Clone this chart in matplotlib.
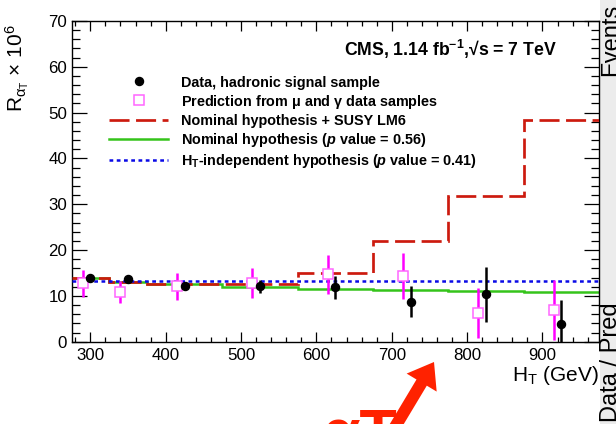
import matplotlib
matplotlib.use('Agg')
import matplotlib.pyplot as plt
from matplotlib.lines import Line2D
from matplotlib.patches import Rectangle, FancyArrow
from matplotlib.transforms import IdentityTransform
from matplotlib.ticker import MultipleLocator

# ---------------- data ----------------
ht_edges = [275, 325, 375, 475, 575, 675, 775, 875, 975]
susy_lm6 = [13.8, 13.1, 12.7, 12.7, 15.1, 22.05, 31.9, 48.4]
nominal = [13.8, 13.1, 12.7, 11.95, 11.6, 11.35, 11.1, 10.9]
ht_independent = 13.35

data_x = [300, 350, 425, 525, 625, 725, 825, 925]
data_y = [13.8, 13.6, 12.15, 12.05, 11.9, 8.7, 10.4, 3.9]
data_err = [0.8, 0.7, 0.7, 1.4, 2.5, 3.4, 6.0, 5.2]

pred_x = [290, 340, 415, 515, 615, 715, 815, 915]
pred_y = [12.75, 10.9, 12.05, 12.8, 14.7, 14.3, 6.2, 6.9]
pred_err = [2.9, 2.4, 3.0, 3.25, 4.3, 5.0, 5.5, 6.5]

labels = [
    'Data, hadronic signal sample',
    r'Prediction from $\mu$ and $\gamma$ data samples',
    'Nominal hypothesis + SUSY LM6',
    r'Nominal hypothesis ($\mathbfit{p}$ value = 0.56)',
    r'H$_\mathbf{T}$-independent hypothesis ($\mathbfit{p}$ value = 0.41)',
]

# ---------------- style ----------------
plt.rcParams['font.family'] = ['Liberation Sans', 'DejaVu Sans']
plt.rcParams['mathtext.fontset'] = 'custom'
plt.rcParams['mathtext.rm'] = 'Liberation Sans'
plt.rcParams['mathtext.it'] = 'Liberation Sans:italic'
plt.rcParams['mathtext.bf'] = 'Liberation Sans:bold'
try:
    plt.rcParams['mathtext.bfit'] = 'Liberation Sans:bold:italic'
except KeyError:
    labels = [l.replace(r'\mathbfit', r'\mathit') for l in labels]
plt.rcParams['mathtext.default'] = 'regular'

RED = '#cc1a0e'
GREEN = '#35c41a'
BLUE = '#0a0ae6'
MAGENTA = '#ff00ff'
PINK = '#ff66ff'

W, H = 616, 424
fig = plt.figure(figsize=(W / 100, H / 100), dpi=100)
fig.patch.set_facecolor('white')

# side strip (neighbouring panel, cut off as in the reference)
fig.add_artist(Rectangle((600 / W, 0), 16 / W, 1, transform=fig.transFigure,
                         facecolor='#ececec', edgecolor='none', zorder=0))
fig.text(600, H - 4, 'Events', rotation=90, ha='left', va='top', fontsize=17,
         transform=IdentityTransform())
fig.text(600, H - 422, 'Data / Pred', rotation=90, ha='left', va='bottom', fontsize=17,
         transform=IdentityTransform())

ax = fig.add_axes([71.5 / W, 1 - 341.7 / H, 527.5 / W, 320.7 / H])
ax.set_facecolor('white')

# step histograms
ax.stairs(nominal, ht_edges, color=GREEN, lw=1.8, zorder=2, baseline=None)
ax.stairs(susy_lm6, ht_edges, color=RED, lw=1.95, linestyle=(0, (7.4, 2.4)),
          zorder=3, baseline=None)
ax.axhline(ht_independent, color=BLUE, lw=1.8, linestyle=(0, (1.5, 1.4)), zorder=4)

# prediction points
ax.errorbar(pred_x, pred_y, yerr=pred_err, fmt='none', ecolor=MAGENTA, elinewidth=1.8,
            capsize=0, zorder=5)
ax.plot(pred_x, pred_y, ls='none', marker='s', ms=7.6, mfc='white', mec=PINK, mew=1.1,
        zorder=6)
# data points
ax.errorbar(data_x, data_y, yerr=data_err, fmt='o', color='black', ms=5.8,
            elinewidth=1.8, capsize=0, zorder=7)

ax.set_xlim(275, 975)
ax.set_ylim(0, 70)
ax.xaxis.set_major_locator(MultipleLocator(100))
ax.xaxis.set_minor_locator(MultipleLocator(20))
ax.yaxis.set_major_locator(MultipleLocator(10))
ax.yaxis.set_minor_locator(MultipleLocator(2))
ax.tick_params(which='both', direction='in', top=True, right=True, width=0.9,
               labelsize=12.2, colors='black')
ax.tick_params(axis='x', which='major', length=7.2, pad=4.3)
ax.tick_params(axis='x', which='minor', length=3.6)
ax.tick_params(axis='y', which='major', length=11, pad=3.2)
ax.tick_params(axis='y', which='minor', length=5.5)
for s in ax.spines.values():
    s.set_linewidth(1.0)

ax.set_xlabel(r'H$_{T}$ (GeV)', fontsize=15, loc='right')
ax.xaxis.set_label_coords(1.0, -0.068)
ax.set_ylabel(r'R$_{\alpha_{T}}$ × 10$^{6}$', fontsize=15, loc='top')
ax.yaxis.set_label_coords(-0.076, 0.99)

ax.text(0.92, 0.891, r'CMS, 1.14 fb$^{\mathbf{-1}}$,√s = 7 TeV',
        transform=ax.transAxes, ha='right', va='baseline', fontsize=12.7, fontweight='bold')

handles = [
    Line2D([], [], ls='none', marker='o', color='black', ms=5.8),
    Line2D([], [], ls='none', marker='s', ms=7.6, mfc='white', mec=PINK, mew=1.1),
    Line2D([], [], color=RED, lw=1.95, linestyle=(0, (7.4, 2.4))),
    Line2D([], [], color=GREEN, lw=1.8),
    Line2D([], [], color=BLUE, lw=1.8, linestyle=(0, (1.5, 1.4))),
]
fig.legend(handles, labels, loc='upper left', bbox_to_anchor=(109 / W, 1 - 75.5 / H),
           frameon=False, prop=dict(weight='bold', size=10.4), handlelength=4.1,
           handletextpad=0.9, labelspacing=0.21, borderpad=0, borderaxespad=0)

# red annotation arrow and text at the bottom
fig.add_artist(FancyArrow(392, -8, 42, 70, width=12, head_width=35, head_length=24,
                          length_includes_head=True, transform=IdentityTransform(),
                          color='#ff2200', lw=0))
fig.text(397, H - 452, 'αT', ha='right', va='baseline', fontsize=44, fontweight='bold',
         color='#ff2200', transform=IdentityTransform())

fig.savefig('out.png', dpi=100)
